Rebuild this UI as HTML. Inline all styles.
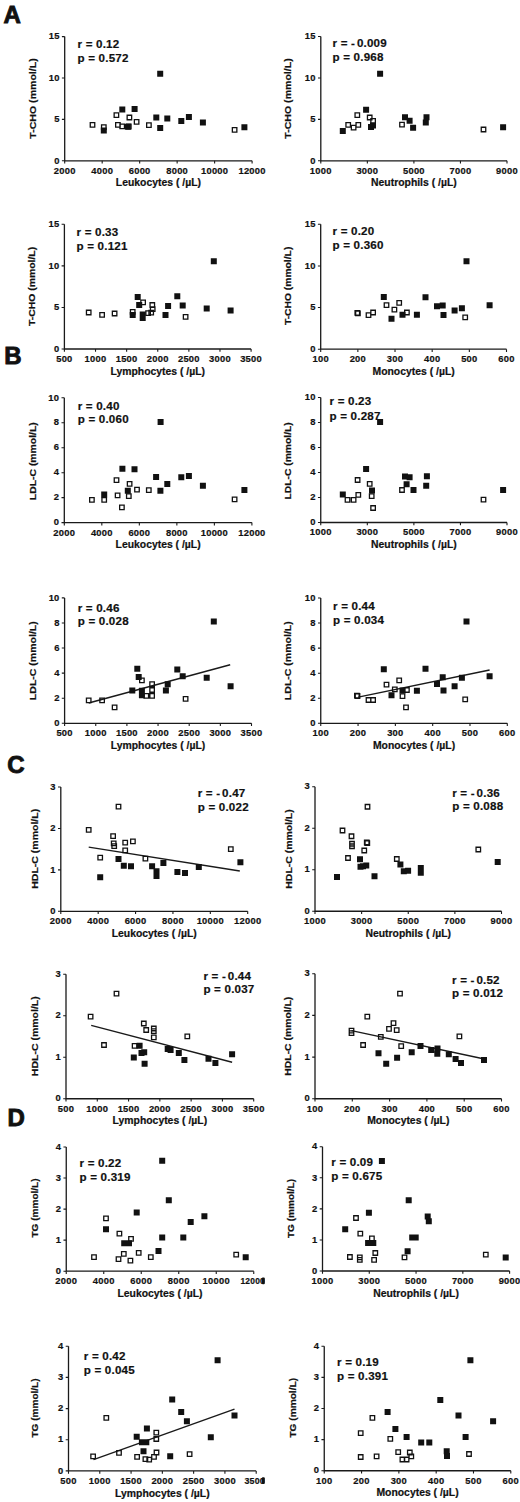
<!DOCTYPE html>
<html><head><meta charset="utf-8"><title>Figure</title>
<style>
html,body{margin:0;padding:0;background:#fff;}
body{width:520px;height:1502px;overflow:hidden;}
svg{display:block;}
text{font-family:"Liberation Sans", sans-serif;font-weight:bold;fill:#111;stroke:#111;stroke-width:0.2px;}
.t{font-size:9.4px;letter-spacing:0.25px;}
.l{font-size:10.4px;}
.yl{font-size:9.8px;}
.r{font-size:11.6px;letter-spacing:0.2px;}
.big{font-size:24px;stroke-width:0.9px;}
</style></head>
<body>
<svg width="520" height="1502" viewBox="0 0 520 1502">
<rect width="520" height="1502" fill="#fff"/>
<text x="3.6" y="22.5" class="big">A</text>
<text x="4.2" y="363.5" class="big">B</text>
<text x="7.2" y="773.0" class="big">C</text>
<text x="7.6" y="1125.5" class="big">D</text>
<path d="M64.7 36.6V160.8H252.1" fill="none" stroke="#1a1a1a" stroke-width="1.3"/>
<path d="M64.7 160.8v2.8M102.18 160.8v2.8M139.66 160.8v2.8M177.14 160.8v2.8M214.62 160.8v2.8M252.1 160.8v2.8M64.7 160.8h-2.8M64.7 119.4h-2.8M64.7 78h-2.8M64.7 36.6h-2.8" fill="none" stroke="#1a1a1a" stroke-width="1.1"/>
<text x="64.7" y="173.7" text-anchor="middle" class="t">2000</text>
<text x="102.18" y="173.7" text-anchor="middle" class="t">4000</text>
<text x="139.66" y="173.7" text-anchor="middle" class="t">6000</text>
<text x="177.14" y="173.7" text-anchor="middle" class="t">8000</text>
<text x="214.62" y="173.7" text-anchor="middle" class="t">10000</text>
<text x="252.1" y="173.7" text-anchor="middle" class="t">12000</text>
<text x="59.7" y="163.5" text-anchor="end" class="t">0</text>
<text x="59.7" y="122.1" text-anchor="end" class="t">5</text>
<text x="59.7" y="80.7" text-anchor="end" class="t">10</text>
<text x="59.7" y="39.3" text-anchor="end" class="t">15</text>
<text x="158.4" y="186.4" text-anchor="middle" class="l">Leukocytes ( /µL)</text>
<text transform="translate(35.8 98.5) rotate(-90)" text-anchor="middle" class="yl" textLength="80.4" lengthAdjust="spacingAndGlyphs">T-CHO (mmol/L)</text>
<text x="77.5" y="47.7" class="r">r = 0.12</text>
<text x="77.5" y="61.7" class="r">p = 0.572</text>
<path d="M90.25 122.55h4.5v4.5h-4.5zM101.55 124.85h4.5v4.5h-4.5zM114.15 112.95h4.5v4.5h-4.5zM115.65 122.55h4.5v4.5h-4.5zM119.95 124.05h4.5v4.5h-4.5zM127.15 115.25h4.5v4.5h-4.5zM134.35 119.65h4.5v4.5h-4.5zM146.65 122.85h4.5v4.5h-4.5zM232.35 127.55h4.5v4.5h-4.5zM126.55 124.25h4.5v4.5h-4.5z" fill="none" stroke="#111" stroke-width="1.3"/>
<path d="M157.2 70.8h6v6h-6zM119.3 106.6h6v6h-6zM131.6 106.1h6v6h-6zM153.3 114.5h6v6h-6zM164.3 115.4h6v6h-6zM157.2 124.9h6v6h-6zM178.3 117.9h6v6h-6zM185.9 114.1h6v6h-6zM199.9 119.6h6v6h-6zM241.4 124.3h6v6h-6zM124.9 123.8h6v6h-6zM100.8 127.6h6v6h-6z" fill="#111"/>
<path d="M320.8 36.5V160.8H507" fill="none" stroke="#1a1a1a" stroke-width="1.3"/>
<path d="M320.8 160.8v2.8M367.35 160.8v2.8M413.9 160.8v2.8M460.45 160.8v2.8M507 160.8v2.8M320.8 160.8h-2.8M320.8 119.37h-2.8M320.8 77.93h-2.8M320.8 36.5h-2.8" fill="none" stroke="#1a1a1a" stroke-width="1.1"/>
<text x="320.8" y="173.7" text-anchor="middle" class="t">1000</text>
<text x="367.35" y="173.7" text-anchor="middle" class="t">3000</text>
<text x="413.9" y="173.7" text-anchor="middle" class="t">5000</text>
<text x="460.45" y="173.7" text-anchor="middle" class="t">7000</text>
<text x="507" y="173.7" text-anchor="middle" class="t">9000</text>
<text x="315.8" y="163.5" text-anchor="end" class="t">0</text>
<text x="315.8" y="122.07" text-anchor="end" class="t">5</text>
<text x="315.8" y="80.63" text-anchor="end" class="t">10</text>
<text x="315.8" y="39.2" text-anchor="end" class="t">15</text>
<text x="413.9" y="186.4" text-anchor="middle" class="l">Neutrophils ( /µL)</text>
<text transform="translate(290.9 98.5) rotate(-90)" text-anchor="middle" class="yl" textLength="80.4" lengthAdjust="spacingAndGlyphs">T-CHO (mmol/L)</text>
<text x="332.5" y="47" class="r">r = -<tspan dx="1.8">0.009</tspan></text>
<text x="332.5" y="61.3" class="r">p = 0.968</text>
<path d="M345.95 122.65h4.5v4.5h-4.5zM351.35 125.35h4.5v4.5h-4.5zM355.05 112.85h4.5v4.5h-4.5zM356.05 122.65h4.5v4.5h-4.5zM367.45 115.25h4.5v4.5h-4.5zM370.85 118.65h4.5v4.5h-4.5zM399.75 122.45h4.5v4.5h-4.5zM481.25 127.25h4.5v4.5h-4.5z" fill="none" stroke="#111" stroke-width="1.3"/>
<path d="M377.1 70.75h6v6h-6zM363.1 106.7h6v6h-6zM339.8 128h6v6h-6zM368 123.9h6v6h-6zM370 122.6h6v6h-6zM402 114.3h6v6h-6zM406.6 117.8h6v6h-6zM410.1 124.7h6v6h-6zM423.5 114.3h6v6h-6zM422.8 119.6h6v6h-6zM500.1 124.2h6v6h-6z" fill="#111"/>
<path d="M64.4 224.3V349H251.1" fill="none" stroke="#1a1a1a" stroke-width="1.3"/>
<path d="M64.4 349v2.8M95.52 349v2.8M126.63 349v2.8M157.75 349v2.8M188.87 349v2.8M219.98 349v2.8M251.1 349v2.8M64.4 349h-2.8M64.4 307.43h-2.8M64.4 265.87h-2.8M64.4 224.3h-2.8" fill="none" stroke="#1a1a1a" stroke-width="1.1"/>
<text x="64.4" y="361.9" text-anchor="middle" class="t">500</text>
<text x="95.52" y="361.9" text-anchor="middle" class="t">1000</text>
<text x="126.63" y="361.9" text-anchor="middle" class="t">1500</text>
<text x="157.75" y="361.9" text-anchor="middle" class="t">2000</text>
<text x="188.87" y="361.9" text-anchor="middle" class="t">2500</text>
<text x="219.98" y="361.9" text-anchor="middle" class="t">3000</text>
<text x="251.1" y="361.9" text-anchor="middle" class="t">3500</text>
<text x="59.4" y="351.7" text-anchor="end" class="t">0</text>
<text x="59.4" y="310.13" text-anchor="end" class="t">5</text>
<text x="59.4" y="268.57" text-anchor="end" class="t">10</text>
<text x="59.4" y="227" text-anchor="end" class="t">15</text>
<text x="157.75" y="374.6" text-anchor="middle" class="l">Lymphocytes ( /µL)</text>
<text transform="translate(35.3 286.4) rotate(-90)" text-anchor="middle" class="yl" textLength="79" lengthAdjust="spacingAndGlyphs">T-CHO (mmol/L)</text>
<text x="76.5" y="236.3" class="r">r = 0.33</text>
<text x="76.5" y="250" class="r">p = 0.121</text>
<path d="M86.45 310.25h4.5v4.5h-4.5zM99.85 312.55h4.5v4.5h-4.5zM112.35 311.25h4.5v4.5h-4.5zM130.45 309.65h4.5v4.5h-4.5zM140.85 300.05h4.5v4.5h-4.5zM150.05 302.75h4.5v4.5h-4.5zM145.85 310.85h4.5v4.5h-4.5zM148.95 310.45h4.5v4.5h-4.5zM150.45 306.95h4.5v4.5h-4.5zM183.35 314.65h4.5v4.5h-4.5z" fill="none" stroke="#111" stroke-width="1.3"/>
<path d="M210.8 258.3h6v6h-6zM134.7 293.9h6v6h-6zM136.2 302h6v6h-6zM129.7 312h6v6h-6zM139.7 311.6h6v6h-6zM139.7 315.1h6v6h-6zM162.5 312h6v6h-6zM165.1 303h6v6h-6zM174.3 293.3h6v6h-6zM179.7 302.4h6v6h-6zM203.7 305.5h6v6h-6zM227.6 307.4h6v6h-6z" fill="#111"/>
<path d="M320.7 224.3V349.2H506.5" fill="none" stroke="#1a1a1a" stroke-width="1.3"/>
<path d="M320.7 349.2v2.8M357.86 349.2v2.8M395.02 349.2v2.8M432.18 349.2v2.8M469.34 349.2v2.8M506.5 349.2v2.8M320.7 349.2h-2.8M320.7 307.57h-2.8M320.7 265.93h-2.8M320.7 224.3h-2.8" fill="none" stroke="#1a1a1a" stroke-width="1.1"/>
<text x="320.7" y="362.1" text-anchor="middle" class="t">100</text>
<text x="357.86" y="362.1" text-anchor="middle" class="t">200</text>
<text x="395.02" y="362.1" text-anchor="middle" class="t">300</text>
<text x="432.18" y="362.1" text-anchor="middle" class="t">400</text>
<text x="469.34" y="362.1" text-anchor="middle" class="t">500</text>
<text x="506.5" y="362.1" text-anchor="middle" class="t">600</text>
<text x="315.7" y="351.9" text-anchor="end" class="t">0</text>
<text x="315.7" y="310.27" text-anchor="end" class="t">5</text>
<text x="315.7" y="268.63" text-anchor="end" class="t">10</text>
<text x="315.7" y="227" text-anchor="end" class="t">15</text>
<text x="413.6" y="374.8" text-anchor="middle" class="l">Monocytes ( /µL)</text>
<text transform="translate(290.8 285.9) rotate(-90)" text-anchor="middle" class="yl" textLength="78.4" lengthAdjust="spacingAndGlyphs">T-CHO (mmol/L)</text>
<text x="332.5" y="235" class="r">r = 0.20</text>
<text x="332.5" y="249.3" class="r">p = 0.360</text>
<path d="M355.05 310.65h4.5v4.5h-4.5zM355.65 311.15h4.5v4.5h-4.5zM366.25 312.95h4.5v4.5h-4.5zM370.85 310.25h4.5v4.5h-4.5zM384.25 302.95h4.5v4.5h-4.5zM392.15 307.35h4.5v4.5h-4.5zM396.95 300.65h4.5v4.5h-4.5zM404.65 310.25h4.5v4.5h-4.5zM462.95 315.05h4.5v4.5h-4.5z" fill="none" stroke="#111" stroke-width="1.3"/>
<path d="M380.8 293.9h6v6h-6zM388.5 315.7h6v6h-6zM399.5 311.8h6v6h-6zM413.9 311.8h6v6h-6zM422.5 294.3h6v6h-6zM434 303.2h6v6h-6zM439.7 302.4h6v6h-6zM440.5 312h6v6h-6zM451.6 307.6h6v6h-6zM458.9 305.3h6v6h-6zM463.5 258.2h6v6h-6zM486.6 302.2h6v6h-6z" fill="#111"/>
<path d="M64.3 397.8V522.6H251.9" fill="none" stroke="#1a1a1a" stroke-width="1.3"/>
<path d="M64.3 522.6v2.8M101.82 522.6v2.8M139.34 522.6v2.8M176.86 522.6v2.8M214.38 522.6v2.8M251.9 522.6v2.8M64.3 522.6h-2.8M64.3 497.64h-2.8M64.3 472.68h-2.8M64.3 447.72h-2.8M64.3 422.76h-2.8M64.3 397.8h-2.8" fill="none" stroke="#1a1a1a" stroke-width="1.1"/>
<text x="64.3" y="535.5" text-anchor="middle" class="t">2000</text>
<text x="101.82" y="535.5" text-anchor="middle" class="t">4000</text>
<text x="139.34" y="535.5" text-anchor="middle" class="t">6000</text>
<text x="176.86" y="535.5" text-anchor="middle" class="t">8000</text>
<text x="214.38" y="535.5" text-anchor="middle" class="t">10000</text>
<text x="251.9" y="535.5" text-anchor="middle" class="t">12000</text>
<text x="59.3" y="525.3" text-anchor="end" class="t">0</text>
<text x="59.3" y="500.34" text-anchor="end" class="t">2</text>
<text x="59.3" y="475.38" text-anchor="end" class="t">4</text>
<text x="59.3" y="450.42" text-anchor="end" class="t">6</text>
<text x="59.3" y="425.46" text-anchor="end" class="t">8</text>
<text x="59.3" y="400.5" text-anchor="end" class="t">10</text>
<text x="158.1" y="548.2" text-anchor="middle" class="l">Leukocytes ( /µL)</text>
<text transform="translate(35.8 461.2) rotate(-90)" text-anchor="middle" class="yl" textLength="78" lengthAdjust="spacingAndGlyphs">LDL-C (mmol/L)</text>
<text x="77.7" y="409.8" class="r">r = 0.40</text>
<text x="77.7" y="423.3" class="r">p = 0.060</text>
<path d="M89.65 497.65h4.5v4.5h-4.5zM101.95 497.65h4.5v4.5h-4.5zM114.25 477.85h4.5v4.5h-4.5zM115.35 493.05h4.5v4.5h-4.5zM127.35 481.55h4.5v4.5h-4.5zM126.55 493.85h4.5v4.5h-4.5zM134.75 487.35h4.5v4.5h-4.5zM146.55 487.85h4.5v4.5h-4.5zM119.65 505.05h4.5v4.5h-4.5zM232.35 497.05h4.5v4.5h-4.5z" fill="none" stroke="#111" stroke-width="1.3"/>
<path d="M119.4 465.8h6v6h-6zM131.5 466.3h6v6h-6zM153.1 474h6v6h-6zM124.8 487.7h6v6h-6zM157.4 487.7h6v6h-6zM101.2 491.5h6v6h-6zM157.6 419.1h6v6h-6zM164.3 481h6v6h-6zM178.3 474.3h6v6h-6zM185.9 473h6v6h-6zM199.9 482.7h6v6h-6zM241.4 487h6v6h-6z" fill="#111"/>
<path d="M320.75 397.5V522.5H507" fill="none" stroke="#1a1a1a" stroke-width="1.3"/>
<path d="M320.75 522.5v2.8M367.31 522.5v2.8M413.88 522.5v2.8M460.44 522.5v2.8M507 522.5v2.8M320.75 522.5h-2.8M320.75 497.5h-2.8M320.75 472.5h-2.8M320.75 447.5h-2.8M320.75 422.5h-2.8M320.75 397.5h-2.8" fill="none" stroke="#1a1a1a" stroke-width="1.1"/>
<text x="320.75" y="535.4" text-anchor="middle" class="t">1000</text>
<text x="367.31" y="535.4" text-anchor="middle" class="t">3000</text>
<text x="413.88" y="535.4" text-anchor="middle" class="t">5000</text>
<text x="460.44" y="535.4" text-anchor="middle" class="t">7000</text>
<text x="507" y="535.4" text-anchor="middle" class="t">9000</text>
<text x="315.75" y="525.2" text-anchor="end" class="t">0</text>
<text x="315.75" y="500.2" text-anchor="end" class="t">2</text>
<text x="315.75" y="475.2" text-anchor="end" class="t">4</text>
<text x="315.75" y="450.2" text-anchor="end" class="t">6</text>
<text x="315.75" y="425.2" text-anchor="end" class="t">8</text>
<text x="315.75" y="400.2" text-anchor="end" class="t">10</text>
<text x="413.88" y="548.1" text-anchor="middle" class="l">Neutrophils ( /µL)</text>
<text transform="translate(291.3 460.9) rotate(-90)" text-anchor="middle" class="yl" textLength="77.4" lengthAdjust="spacingAndGlyphs">LDL-C (mmol/L)</text>
<text x="329.5" y="405" class="r">r = 0.23</text>
<text x="329.5" y="420" class="r">p = 0.287</text>
<path d="M345.25 497.65h4.5v4.5h-4.5zM351.35 497.65h4.5v4.5h-4.5zM355.35 477.75h4.5v4.5h-4.5zM356.05 492.55h4.5v4.5h-4.5zM367.45 481.55h4.5v4.5h-4.5zM369.45 493.85h4.5v4.5h-4.5zM370.85 505.75h4.5v4.5h-4.5zM399.75 487.75h4.5v4.5h-4.5zM481.25 497.45h4.5v4.5h-4.5z" fill="none" stroke="#111" stroke-width="1.3"/>
<path d="M377.1 419.1h6v6h-6zM363.1 466h6v6h-6zM339.8 491.5h6v6h-6zM369 487.5h6v6h-6zM402 473.6h6v6h-6zM406.6 474.3h6v6h-6zM403.6 481.2h6v6h-6zM410.5 487h6v6h-6zM423.9 473.2h6v6h-6zM423.2 482.8h6v6h-6zM500.1 487h6v6h-6z" fill="#111"/>
<path d="M64.6 597.9V723.3H251.5" fill="none" stroke="#1a1a1a" stroke-width="1.3"/>
<path d="M64.6 723.3v2.8M95.75 723.3v2.8M126.9 723.3v2.8M158.05 723.3v2.8M189.2 723.3v2.8M220.35 723.3v2.8M251.5 723.3v2.8M64.6 723.3h-2.8M64.6 698.22h-2.8M64.6 673.14h-2.8M64.6 648.06h-2.8M64.6 622.98h-2.8M64.6 597.9h-2.8" fill="none" stroke="#1a1a1a" stroke-width="1.1"/>
<text x="64.6" y="736.2" text-anchor="middle" class="t">500</text>
<text x="95.75" y="736.2" text-anchor="middle" class="t">1000</text>
<text x="126.9" y="736.2" text-anchor="middle" class="t">1500</text>
<text x="158.05" y="736.2" text-anchor="middle" class="t">2000</text>
<text x="189.2" y="736.2" text-anchor="middle" class="t">2500</text>
<text x="220.35" y="736.2" text-anchor="middle" class="t">3000</text>
<text x="251.5" y="736.2" text-anchor="middle" class="t">3500</text>
<text x="59.6" y="726" text-anchor="end" class="t">0</text>
<text x="59.6" y="700.92" text-anchor="end" class="t">2</text>
<text x="59.6" y="675.84" text-anchor="end" class="t">4</text>
<text x="59.6" y="650.76" text-anchor="end" class="t">6</text>
<text x="59.6" y="625.68" text-anchor="end" class="t">8</text>
<text x="59.6" y="600.6" text-anchor="end" class="t">10</text>
<text x="158.05" y="748.9" text-anchor="middle" class="l">Lymphocytes ( /µL)</text>
<text transform="translate(35.8 660.7) rotate(-90)" text-anchor="middle" class="yl" textLength="78.9" lengthAdjust="spacingAndGlyphs">LDL-C (mmol/L)</text>
<text x="77.7" y="611.7" class="r">r = 0.46</text>
<text x="77.7" y="625.2" class="r">p = 0.028</text>
<path d="M88.7 703L230.2 664.8" stroke="#1a1a1a" stroke-width="1.4"/>
<path d="M86.45 698.15h4.5v4.5h-4.5zM99.85 698.15h4.5v4.5h-4.5zM112.35 705.05h4.5v4.5h-4.5zM139.65 678.15h4.5v4.5h-4.5zM149.85 681.95h4.5v4.5h-4.5zM149.85 687.75h4.5v4.5h-4.5zM144.05 693.55h4.5v4.5h-4.5zM149.85 693.55h4.5v4.5h-4.5zM183.35 696.55h4.5v4.5h-4.5z" fill="none" stroke="#111" stroke-width="1.3"/>
<path d="M134.3 665.7h6v6h-6zM135.7 673.9h6v6h-6zM129.3 687.4h6v6h-6zM138.9 687.8h6v6h-6zM138.9 692.2h6v6h-6zM164.7 681.3h6v6h-6zM162.9 687.4h6v6h-6zM174.3 666.4h6v6h-6zM179.7 673.3h6v6h-6zM203.7 674.7h6v6h-6zM210.8 618.5h6v6h-6zM227.6 683.3h6v6h-6z" fill="#111"/>
<path d="M320.75 598V723.3H507.3" fill="none" stroke="#1a1a1a" stroke-width="1.3"/>
<path d="M320.75 723.3v2.8M358.06 723.3v2.8M395.37 723.3v2.8M432.68 723.3v2.8M469.99 723.3v2.8M507.3 723.3v2.8M320.75 723.3h-2.8M320.75 698.24h-2.8M320.75 673.18h-2.8M320.75 648.12h-2.8M320.75 623.06h-2.8M320.75 598h-2.8" fill="none" stroke="#1a1a1a" stroke-width="1.1"/>
<text x="320.75" y="736.2" text-anchor="middle" class="t">100</text>
<text x="358.06" y="736.2" text-anchor="middle" class="t">200</text>
<text x="395.37" y="736.2" text-anchor="middle" class="t">300</text>
<text x="432.68" y="736.2" text-anchor="middle" class="t">400</text>
<text x="469.99" y="736.2" text-anchor="middle" class="t">500</text>
<text x="507.3" y="736.2" text-anchor="middle" class="t">600</text>
<text x="315.75" y="726" text-anchor="end" class="t">0</text>
<text x="315.75" y="700.94" text-anchor="end" class="t">2</text>
<text x="315.75" y="675.88" text-anchor="end" class="t">4</text>
<text x="315.75" y="650.82" text-anchor="end" class="t">6</text>
<text x="315.75" y="625.76" text-anchor="end" class="t">8</text>
<text x="315.75" y="600.7" text-anchor="end" class="t">10</text>
<text x="414.02" y="748.9" text-anchor="middle" class="l">Monocytes ( /µL)</text>
<text transform="translate(291.3 660.7) rotate(-90)" text-anchor="middle" class="yl" textLength="78.9" lengthAdjust="spacingAndGlyphs">LDL-C (mmol/L)</text>
<text x="333" y="609.5" class="r">r = 0.44</text>
<text x="333" y="623.8" class="r">p = 0.034</text>
<path d="M358.3 697.1L489.6 670" stroke="#1a1a1a" stroke-width="1.4"/>
<path d="M355.25 693.75h4.5v4.5h-4.5zM354.65 693.35h4.5v4.5h-4.5zM366.25 697.75h4.5v4.5h-4.5zM370.85 697.75h4.5v4.5h-4.5zM384.25 682.35h4.5v4.5h-4.5zM392.55 687.15h4.5v4.5h-4.5zM396.95 678.15h4.5v4.5h-4.5zM404.65 687.75h4.5v4.5h-4.5zM400.25 693.95h4.5v4.5h-4.5zM403.75 705.05h4.5v4.5h-4.5zM462.95 697.15h4.5v4.5h-4.5z" fill="none" stroke="#111" stroke-width="1.3"/>
<path d="M380.8 666.2h6v6h-6zM388.5 692.2h6v6h-6zM399.5 687.4h6v6h-6zM413.9 687.8h6v6h-6zM422.5 665.8h6v6h-6zM434 681.1h6v6h-6zM439.7 674.3h6v6h-6zM440.5 687.4h6v6h-6zM451.6 683.3h6v6h-6zM458.9 674.7h6v6h-6zM463.5 618.5h6v6h-6zM486.6 673.3h6v6h-6z" fill="#111"/>
<path d="M60.8 787V911.3H247.7" fill="none" stroke="#1a1a1a" stroke-width="1.3"/>
<path d="M60.8 911.3v2.8M98.18 911.3v2.8M135.56 911.3v2.8M172.94 911.3v2.8M210.32 911.3v2.8M247.7 911.3v2.8M60.8 911.3h-2.8M60.8 869.87h-2.8M60.8 828.43h-2.8M60.8 787h-2.8" fill="none" stroke="#1a1a1a" stroke-width="1.1"/>
<text x="60.8" y="924.2" text-anchor="middle" class="t">2000</text>
<text x="98.18" y="924.2" text-anchor="middle" class="t">4000</text>
<text x="135.56" y="924.2" text-anchor="middle" class="t">6000</text>
<text x="172.94" y="924.2" text-anchor="middle" class="t">8000</text>
<text x="210.32" y="924.2" text-anchor="middle" class="t">10000</text>
<text x="247.7" y="924.2" text-anchor="middle" class="t">12000</text>
<text x="55.8" y="914" text-anchor="end" class="t">0</text>
<text x="55.8" y="872.57" text-anchor="end" class="t">1</text>
<text x="55.8" y="831.13" text-anchor="end" class="t">2</text>
<text x="55.8" y="789.7" text-anchor="end" class="t">3</text>
<text x="154.25" y="936.9" text-anchor="middle" class="l">Leukocytes ( /µL)</text>
<text transform="translate(38.2 848.8) rotate(-90)" text-anchor="middle" class="yl" textLength="79.9" lengthAdjust="spacingAndGlyphs">HDL-C (mmol/L)</text>
<text x="197.7" y="796.9" class="r">r = -<tspan dx="1.8">0.47</tspan></text>
<text x="197.7" y="810.5" class="r">p = 0.022</text>
<path d="M88.7 847.1L239.8 871" stroke="#1a1a1a" stroke-width="1.4"/>
<path d="M116.25 804.45h4.5v4.5h-4.5zM86.45 827.55h4.5v4.5h-4.5zM110.85 833.95h4.5v4.5h-4.5zM111.45 841.05h4.5v4.5h-4.5zM111.95 843.95h4.5v4.5h-4.5zM122.95 840.45h4.5v4.5h-4.5zM130.65 839.05h4.5v4.5h-4.5zM122.95 848.15h4.5v4.5h-4.5zM97.95 855.45h4.5v4.5h-4.5zM143.15 856.45h4.5v4.5h-4.5zM228.55 846.95h4.5v4.5h-4.5z" fill="none" stroke="#111" stroke-width="1.3"/>
<path d="M97.2 874.3h6v6h-6zM115.5 856h6v6h-6zM120.8 862.8h6v6h-6zM128 863.3h6v6h-6zM149.1 863.3h6v6h-6zM153.5 868.2h6v6h-6zM153.5 873h6v6h-6zM160.4 860h6v6h-6zM174.4 869h6v6h-6zM182 869.9h6v6h-6zM195.8 864.1h6v6h-6zM237.4 859.3h6v6h-6z" fill="#111"/>
<path d="M315 786.75V911.25H501.5" fill="none" stroke="#1a1a1a" stroke-width="1.3"/>
<path d="M315 911.25v2.8M361.62 911.25v2.8M408.25 911.25v2.8M454.88 911.25v2.8M501.5 911.25v2.8M315 911.25h-2.8M315 869.75h-2.8M315 828.25h-2.8M315 786.75h-2.8" fill="none" stroke="#1a1a1a" stroke-width="1.1"/>
<text x="315" y="924.15" text-anchor="middle" class="t">1000</text>
<text x="361.62" y="924.15" text-anchor="middle" class="t">3000</text>
<text x="408.25" y="924.15" text-anchor="middle" class="t">5000</text>
<text x="454.88" y="924.15" text-anchor="middle" class="t">7000</text>
<text x="501.5" y="924.15" text-anchor="middle" class="t">9000</text>
<text x="310" y="913.95" text-anchor="end" class="t">0</text>
<text x="310" y="872.45" text-anchor="end" class="t">1</text>
<text x="310" y="830.95" text-anchor="end" class="t">2</text>
<text x="310" y="789.45" text-anchor="end" class="t">3</text>
<text x="408.25" y="936.85" text-anchor="middle" class="l">Neutrophils ( /µL)</text>
<text transform="translate(291.6 849) rotate(-90)" text-anchor="middle" class="yl" textLength="79.4" lengthAdjust="spacingAndGlyphs">HDL-C (mmol/L)</text>
<text x="452.2" y="796.7" class="r">r = -<tspan dx="1.8">0.36</tspan></text>
<text x="452.2" y="810.4" class="r">p = 0.088</text>
<path d="M365.05 840.95h4.5v4.5h-4.5zM340.25 828.25h4.5v4.5h-4.5zM345.75 855.75h4.5v4.5h-4.5zM349.25 834h4.5v4.5h-4.5zM349.75 841.5h4.5v4.5h-4.5zM349.75 844h4.5v4.5h-4.5zM362 848.25h4.5v4.5h-4.5zM364.5 840.25h4.5v4.5h-4.5zM365.25 804.5h4.5v4.5h-4.5zM394.55 856.75h4.5v4.5h-4.5zM476.05 847.25h4.5v4.5h-4.5z" fill="none" stroke="#111" stroke-width="1.3"/>
<path d="M334 874h6v6h-6zM357 856.25h6v6h-6zM357.5 863.75h6v6h-6zM360 863.25h6v6h-6zM363.25 862.5h6v6h-6zM371.5 873.25h6v6h-6zM397.4 861.6h6v6h-6zM400.8 868.2h6v6h-6zM405.1 867.8h6v6h-6zM417.8 865.1h6v6h-6zM417.8 869.7h6v6h-6zM494.7 859.1h6v6h-6z" fill="#111"/>
<path d="M66 974.25V1098.75H253.7" fill="none" stroke="#1a1a1a" stroke-width="1.3"/>
<path d="M66 1098.75v2.8M97.28 1098.75v2.8M128.57 1098.75v2.8M159.85 1098.75v2.8M191.13 1098.75v2.8M222.42 1098.75v2.8M253.7 1098.75v2.8M66 1098.75h-2.8M66 1057.25h-2.8M66 1015.75h-2.8M66 974.25h-2.8" fill="none" stroke="#1a1a1a" stroke-width="1.1"/>
<text x="66" y="1111.65" text-anchor="middle" class="t">500</text>
<text x="97.28" y="1111.65" text-anchor="middle" class="t">1000</text>
<text x="128.57" y="1111.65" text-anchor="middle" class="t">1500</text>
<text x="159.85" y="1111.65" text-anchor="middle" class="t">2000</text>
<text x="191.13" y="1111.65" text-anchor="middle" class="t">2500</text>
<text x="222.42" y="1111.65" text-anchor="middle" class="t">3000</text>
<text x="253.7" y="1111.65" text-anchor="middle" class="t">3500</text>
<text x="61" y="1101.45" text-anchor="end" class="t">0</text>
<text x="61" y="1059.95" text-anchor="end" class="t">1</text>
<text x="61" y="1018.45" text-anchor="end" class="t">2</text>
<text x="61" y="976.95" text-anchor="end" class="t">3</text>
<text x="159.85" y="1124.35" text-anchor="middle" class="l">Lymphocytes ( /µL)</text>
<text transform="translate(38.2 1036.2) rotate(-90)" text-anchor="middle" class="yl" textLength="79.9" lengthAdjust="spacingAndGlyphs">HDL-C (mmol/L)</text>
<text x="203.4" y="979.7" class="r">r = -<tspan dx="1.8">0.44</tspan></text>
<text x="203.4" y="993.1" class="r">p = 0.037</text>
<path d="M91.2 1025.4L232.1 1062.3" stroke="#1a1a1a" stroke-width="1.4"/>
<path d="M114.25 991.45h4.5v4.5h-4.5zM88.35 1014.45h4.5v4.5h-4.5zM101.75 1042.75h4.5v4.5h-4.5zM141.55 1021.25h4.5v4.5h-4.5zM143.95 1027.75h4.5v4.5h-4.5zM151.55 1026.25h4.5v4.5h-4.5zM151.55 1028.95h4.5v4.5h-4.5zM151.55 1035.05h4.5v4.5h-4.5zM132.35 1043.55h4.5v4.5h-4.5zM185.05 1034.05h4.5v4.5h-4.5z" fill="none" stroke="#111" stroke-width="1.3"/>
<path d="M136.6 1042.8h6v6h-6zM138.5 1050.1h6v6h-6zM141.2 1049.3h6v6h-6zM130.8 1054.5h6v6h-6zM141.6 1060.8h6v6h-6zM164.7 1046h6v6h-6zM167.6 1047h6v6h-6zM175.8 1049.9h6v6h-6zM181.4 1057h6v6h-6zM205.5 1055.7h6v6h-6zM212.4 1059.9h6v6h-6zM229.1 1051.2h6v6h-6z" fill="#111"/>
<path d="M315 973.75V1098.75H501.5" fill="none" stroke="#1a1a1a" stroke-width="1.3"/>
<path d="M315 1098.75v2.8M352.3 1098.75v2.8M389.6 1098.75v2.8M426.9 1098.75v2.8M464.2 1098.75v2.8M501.5 1098.75v2.8M315 1098.75h-2.8M315 1057.08h-2.8M315 1015.42h-2.8M315 973.75h-2.8" fill="none" stroke="#1a1a1a" stroke-width="1.1"/>
<text x="315" y="1111.65" text-anchor="middle" class="t">100</text>
<text x="352.3" y="1111.65" text-anchor="middle" class="t">200</text>
<text x="389.6" y="1111.65" text-anchor="middle" class="t">300</text>
<text x="426.9" y="1111.65" text-anchor="middle" class="t">400</text>
<text x="464.2" y="1111.65" text-anchor="middle" class="t">500</text>
<text x="501.5" y="1111.65" text-anchor="middle" class="t">600</text>
<text x="310" y="1101.45" text-anchor="end" class="t">0</text>
<text x="310" y="1059.78" text-anchor="end" class="t">1</text>
<text x="310" y="1018.12" text-anchor="end" class="t">2</text>
<text x="310" y="976.45" text-anchor="end" class="t">3</text>
<text x="408.25" y="1124.35" text-anchor="middle" class="l">Monocytes ( /µL)</text>
<text transform="translate(291.1 1036.2) rotate(-90)" text-anchor="middle" class="yl" textLength="78.9" lengthAdjust="spacingAndGlyphs">HDL-C (mmol/L)</text>
<text x="452" y="984.2" class="r">r = -<tspan dx="1.8">0.52</tspan></text>
<text x="452" y="996.9" class="r">p = 0.012</text>
<path d="M351.5 1030.6L484.4 1059" stroke="#1a1a1a" stroke-width="1.4"/>
<path d="M397.75 991.45h4.5v4.5h-4.5zM365.05 1014.45h4.5v4.5h-4.5zM349.25 1028.35h4.5v4.5h-4.5zM349.25 1030.85h4.5v4.5h-4.5zM391.25 1020.85h4.5v4.5h-4.5zM386.75 1026.55h4.5v4.5h-4.5zM394.45 1027.95h4.5v4.5h-4.5zM378.55 1034.65h4.5v4.5h-4.5zM360.85 1042.75h4.5v4.5h-4.5zM398.95 1043.95h4.5v4.5h-4.5zM457.15 1034.05h4.5v4.5h-4.5z" fill="none" stroke="#111" stroke-width="1.3"/>
<path d="M375.5 1050.3h6v6h-6zM383.2 1060.8h6v6h-6zM394.1 1054.7h6v6h-6zM408.7 1049.3h6v6h-6zM417.5 1043h6v6h-6zM428.2 1047h6v6h-6zM434.5 1045.5h6v6h-6zM434.3 1050.8h6v6h-6zM445.8 1051.2h6v6h-6zM452.6 1056h6v6h-6zM458 1059.9h6v6h-6zM481 1057h6v6h-6z" fill="#111"/>
<path d="M66.25 1147V1271.2H253.75" fill="none" stroke="#1a1a1a" stroke-width="1.3"/>
<path d="M66.25 1271.2v2.8M103.75 1271.2v2.8M141.25 1271.2v2.8M178.75 1271.2v2.8M216.25 1271.2v2.8M253.75 1271.2v2.8M66.25 1271.2h-2.8M66.25 1240.15h-2.8M66.25 1209.1h-2.8M66.25 1178.05h-2.8M66.25 1147h-2.8" fill="none" stroke="#1a1a1a" stroke-width="1.1"/>
<text x="66.25" y="1284.1" text-anchor="middle" class="t">2000</text>
<text x="103.75" y="1284.1" text-anchor="middle" class="t">4000</text>
<text x="141.25" y="1284.1" text-anchor="middle" class="t">6000</text>
<text x="178.75" y="1284.1" text-anchor="middle" class="t">8000</text>
<text x="216.25" y="1284.1" text-anchor="middle" class="t">10000</text>
<text x="240.4" y="1284.1" class="t" textLength="24.6" lengthAdjust="spacingAndGlyphs">12000</text>
<rect x="261.8" y="1277.5" width="3.0" height="6.8" rx="1" fill="#111"/>
<text x="61.25" y="1273.9" text-anchor="end" class="t">0</text>
<text x="61.25" y="1242.85" text-anchor="end" class="t">1</text>
<text x="61.25" y="1211.8" text-anchor="end" class="t">2</text>
<text x="61.25" y="1180.75" text-anchor="end" class="t">3</text>
<text x="61.25" y="1149.7" text-anchor="end" class="t">4</text>
<text x="160" y="1296.8" text-anchor="middle" class="l">Leukocytes ( /µL)</text>
<text transform="translate(37.7 1208) rotate(-90)" text-anchor="middle" class="yl" textLength="59.2" lengthAdjust="spacingAndGlyphs">TG (mmol/L)</text>
<text x="79.5" y="1167" class="r">r = 0.22</text>
<text x="79.5" y="1180.8" class="r">p = 0.319</text>
<path d="M103.75 1216.05h4.5v4.5h-4.5zM117.15 1231.45h4.5v4.5h-4.5zM128.75 1236.55h4.5v4.5h-4.5zM91.75 1254.85h4.5v4.5h-4.5zM116.25 1256.95h4.5v4.5h-4.5zM121.55 1251.55h4.5v4.5h-4.5zM128.15 1258.35h4.5v4.5h-4.5zM136.45 1250.65h4.5v4.5h-4.5zM148.55 1254.85h4.5v4.5h-4.5zM233.95 1252.45h4.5v4.5h-4.5z" fill="none" stroke="#111" stroke-width="1.3"/>
<path d="M159.2 1157.8h6v6h-6zM165.8 1197.3h6v6h-6zM133.7 1209.5h6v6h-6zM103 1226.2h6v6h-6zM121.2 1240.3h6v6h-6zM126 1240.3h6v6h-6zM159.2 1234.4h6v6h-6zM155.5 1248h6v6h-6zM187.7 1218.9h6v6h-6zM201.4 1213.2h6v6h-6zM180.3 1234.4h6v6h-6zM242.7 1254.3h6v6h-6z" fill="#111"/>
<path d="M322.5 1146.75V1271H509.6" fill="none" stroke="#1a1a1a" stroke-width="1.3"/>
<path d="M322.5 1271v2.8M369.27 1271v2.8M416.05 1271v2.8M462.83 1271v2.8M509.6 1271v2.8M322.5 1271h-2.8M322.5 1239.94h-2.8M322.5 1208.88h-2.8M322.5 1177.81h-2.8M322.5 1146.75h-2.8" fill="none" stroke="#1a1a1a" stroke-width="1.1"/>
<text x="322.5" y="1283.9" text-anchor="middle" class="t">1000</text>
<text x="369.27" y="1283.9" text-anchor="middle" class="t">3000</text>
<text x="416.05" y="1283.9" text-anchor="middle" class="t">5000</text>
<text x="462.83" y="1283.9" text-anchor="middle" class="t">7000</text>
<text x="509.6" y="1283.9" text-anchor="middle" class="t">9000</text>
<text x="317.5" y="1273.7" text-anchor="end" class="t">0</text>
<text x="317.5" y="1242.64" text-anchor="end" class="t">1</text>
<text x="317.5" y="1211.58" text-anchor="end" class="t">2</text>
<text x="317.5" y="1180.51" text-anchor="end" class="t">3</text>
<text x="317.5" y="1149.45" text-anchor="end" class="t">4</text>
<text x="416.05" y="1296.6" text-anchor="middle" class="l">Neutrophils ( /µL)</text>
<text transform="translate(293.7 1208.5) rotate(-90)" text-anchor="middle" class="yl" textLength="59.2" lengthAdjust="spacingAndGlyphs">TG (mmol/L)</text>
<text x="331.25" y="1166.3" class="r">r = 0.09</text>
<text x="331.25" y="1180" class="r">p = 0.675</text>
<path d="M353.75 1215.75h4.5v4.5h-4.5zM358.05 1231.35h4.5v4.5h-4.5zM369.65 1236.05h4.5v4.5h-4.5zM347.65 1254.75h4.5v4.5h-4.5zM357.55 1255.05h4.5v4.5h-4.5zM357.55 1257.65h4.5v4.5h-4.5zM373.05 1250.75h4.5v4.5h-4.5zM371.85 1257.65h4.5v4.5h-4.5zM402.25 1255.15h4.5v4.5h-4.5zM483.55 1252.35h4.5v4.5h-4.5z" fill="none" stroke="#111" stroke-width="1.3"/>
<path d="M378.9 1157.9h6v6h-6zM405.7 1197.3h6v6h-6zM365.9 1209.7h6v6h-6zM342.2 1226.3h6v6h-6zM365.1 1240.1h6v6h-6zM370.3 1240.1h6v6h-6zM409.2 1234.4h6v6h-6zM412.7 1234.4h6v6h-6zM404.6 1248.2h6v6h-6zM424.7 1213.5h6v6h-6zM425.8 1218.2h6v6h-6zM502.7 1254.4h6v6h-6z" fill="#111"/>
<path d="M68.5 1346.25V1470.9H256.2" fill="none" stroke="#1a1a1a" stroke-width="1.3"/>
<path d="M68.5 1470.9v2.8M99.78 1470.9v2.8M131.07 1470.9v2.8M162.35 1470.9v2.8M193.63 1470.9v2.8M224.92 1470.9v2.8M256.2 1470.9v2.8M68.5 1470.9h-2.8M68.5 1439.74h-2.8M68.5 1408.58h-2.8M68.5 1377.41h-2.8M68.5 1346.25h-2.8" fill="none" stroke="#1a1a1a" stroke-width="1.1"/>
<text x="68.5" y="1483.8" text-anchor="middle" class="t">500</text>
<text x="99.78" y="1483.8" text-anchor="middle" class="t">1000</text>
<text x="131.07" y="1483.8" text-anchor="middle" class="t">1500</text>
<text x="162.35" y="1483.8" text-anchor="middle" class="t">2000</text>
<text x="193.63" y="1483.8" text-anchor="middle" class="t">2500</text>
<text x="224.92" y="1483.8" text-anchor="middle" class="t">3000</text>
<text x="244.4" y="1483.8" class="t" textLength="20.6" lengthAdjust="spacingAndGlyphs">3500</text>
<rect x="261.8" y="1477.2" width="3.0" height="6.8" rx="1" fill="#111"/>
<text x="63.5" y="1473.6" text-anchor="end" class="t">0</text>
<text x="63.5" y="1442.44" text-anchor="end" class="t">1</text>
<text x="63.5" y="1411.28" text-anchor="end" class="t">2</text>
<text x="63.5" y="1380.11" text-anchor="end" class="t">3</text>
<text x="63.5" y="1348.95" text-anchor="end" class="t">4</text>
<text x="162.35" y="1496.5" text-anchor="middle" class="l">Lymphocytes ( /µL)</text>
<text transform="translate(37.7 1408) rotate(-90)" text-anchor="middle" class="yl" textLength="59.2" lengthAdjust="spacingAndGlyphs">TG (mmol/L)</text>
<text x="83.75" y="1360" class="r">r = 0.42</text>
<text x="83.75" y="1373.8" class="r">p = 0.045</text>
<path d="M93.5 1459.6L234.5 1409.1" stroke="#1a1a1a" stroke-width="1.4"/>
<path d="M104.05 1415.65h4.5v4.5h-4.5zM90.85 1454.05h4.5v4.5h-4.5zM116.75 1450.65h4.5v4.5h-4.5zM154.05 1430.45h4.5v4.5h-4.5zM154.05 1436.75h4.5v4.5h-4.5zM134.85 1454.65h4.5v4.5h-4.5zM143.15 1456.95h4.5v4.5h-4.5zM146.95 1457.35h4.5v4.5h-4.5zM151.75 1454.65h4.5v4.5h-4.5zM154.25 1450.25h4.5v4.5h-4.5zM187.35 1451.95h4.5v4.5h-4.5z" fill="none" stroke="#111" stroke-width="1.3"/>
<path d="M214.6 1357.3h6v6h-6zM169.2 1396.4h6v6h-6zM178.2 1408.9h6v6h-6zM183.9 1418.2h6v6h-6zM231.5 1412.5h6v6h-6zM207.8 1434.3h6v6h-6zM167.2 1453.3h6v6h-6zM143.9 1425.5h6v6h-6zM133.7 1433.7h6v6h-6zM138.9 1439.3h6v6h-6zM143.3 1439.3h6v6h-6zM140.5 1448.2h6v6h-6z" fill="#111"/>
<path d="M324.25 1346.25V1470.75H510.8" fill="none" stroke="#1a1a1a" stroke-width="1.3"/>
<path d="M324.25 1470.75v2.8M361.56 1470.75v2.8M398.87 1470.75v2.8M436.18 1470.75v2.8M473.49 1470.75v2.8M510.8 1470.75v2.8M324.25 1470.75h-2.8M324.25 1439.62h-2.8M324.25 1408.5h-2.8M324.25 1377.38h-2.8M324.25 1346.25h-2.8" fill="none" stroke="#1a1a1a" stroke-width="1.1"/>
<text x="324.25" y="1483.65" text-anchor="middle" class="t">100</text>
<text x="361.56" y="1483.65" text-anchor="middle" class="t">200</text>
<text x="398.87" y="1483.65" text-anchor="middle" class="t">300</text>
<text x="436.18" y="1483.65" text-anchor="middle" class="t">400</text>
<text x="473.49" y="1483.65" text-anchor="middle" class="t">500</text>
<text x="510.8" y="1483.65" text-anchor="middle" class="t">600</text>
<text x="319.25" y="1473.45" text-anchor="end" class="t">0</text>
<text x="319.25" y="1442.33" text-anchor="end" class="t">1</text>
<text x="319.25" y="1411.2" text-anchor="end" class="t">2</text>
<text x="319.25" y="1380.08" text-anchor="end" class="t">3</text>
<text x="319.25" y="1348.95" text-anchor="end" class="t">4</text>
<text x="417.52" y="1496.35" text-anchor="middle" class="l">Monocytes ( /µL)</text>
<text transform="translate(295.6 1407.8) rotate(-90)" text-anchor="middle" class="yl" textLength="59.6" lengthAdjust="spacingAndGlyphs">TG (mmol/L)</text>
<text x="337" y="1365.8" class="r">r = 0.19</text>
<text x="337" y="1380" class="r">p = 0.391</text>
<path d="M370.15 1415.65h4.5v4.5h-4.5zM358.45 1430.85h4.5v4.5h-4.5zM388.05 1436.55h4.5v4.5h-4.5zM358.45 1454.75h4.5v4.5h-4.5zM374.35 1454.15h4.5v4.5h-4.5zM395.95 1449.85h4.5v4.5h-4.5zM407.55 1450.25h4.5v4.5h-4.5zM400.15 1457.25h4.5v4.5h-4.5zM404.35 1457.25h4.5v4.5h-4.5zM409.05 1454.15h4.5v4.5h-4.5zM466.75 1451.75h4.5v4.5h-4.5z" fill="none" stroke="#111" stroke-width="1.3"/>
<path d="M384.6 1408.9h6v6h-6zM392.4 1425.9h6v6h-6zM437.3 1397h6v6h-6zM403.6 1433.9h6v6h-6zM418.2 1439.5h6v6h-6zM426.3 1439.5h6v6h-6zM443.7 1448.2h6v6h-6zM444 1453.1h6v6h-6zM467.4 1357.2h6v6h-6zM455.5 1412.6h6v6h-6zM490.1 1418.3h6v6h-6zM462.6 1434.1h6v6h-6z" fill="#111"/>
</svg>
</body></html>
